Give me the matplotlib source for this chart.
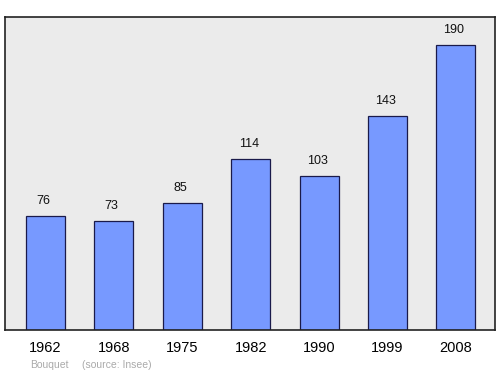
import matplotlib
matplotlib.use("Agg")
import matplotlib.pyplot as plt

plt.rcParams["font.family"] = ["Liberation Sans", "DejaVu Sans"]

# 数据
years = ["1962", "1968", "1975", "1982", "1990", "1999", "2008"]
population = [76, 73, 85, 114, 103, 143, 190]

fig = plt.figure(figsize=(5.0, 3.74), dpi=100)
ax = fig.add_axes([5 / 500, 1 - 330 / 374, 490 / 500, 313 / 374])
ax.set_facecolor("#ebebeb")

x = list(range(len(years)))
ax.bar(x, population, width=0.57, color="#7799ff", edgecolor="#1a1a4a", linewidth=0.9)

for i, v in enumerate(population):
    ax.text(i - 0.03, v + 6, f"{v}", ha="center", va="bottom", fontsize=9, color="#111111")

ax.set_xlim(-0.59, 6.57)
ax.set_ylim(0, 208.7)
ax.set_xticks(x)
ax.set_xticklabels(years, fontsize=10.5)
ax.tick_params(axis="x", length=0, pad=8)
ax.set_yticks([])
for s in ax.spines.values():
    s.set_linewidth(1.2)
    s.set_color("#222222")

fig.text(30 / 500, 1 - 365 / 374, "Bouquet", fontsize=7.5, color="#aaaaaa", va="center")
fig.text(82 / 500, 1 - 365 / 374, "(source: Insee)", fontsize=7.5, color="#aaaaaa", va="center")

plt.savefig("out.png", dpi=100)
plt.close()
